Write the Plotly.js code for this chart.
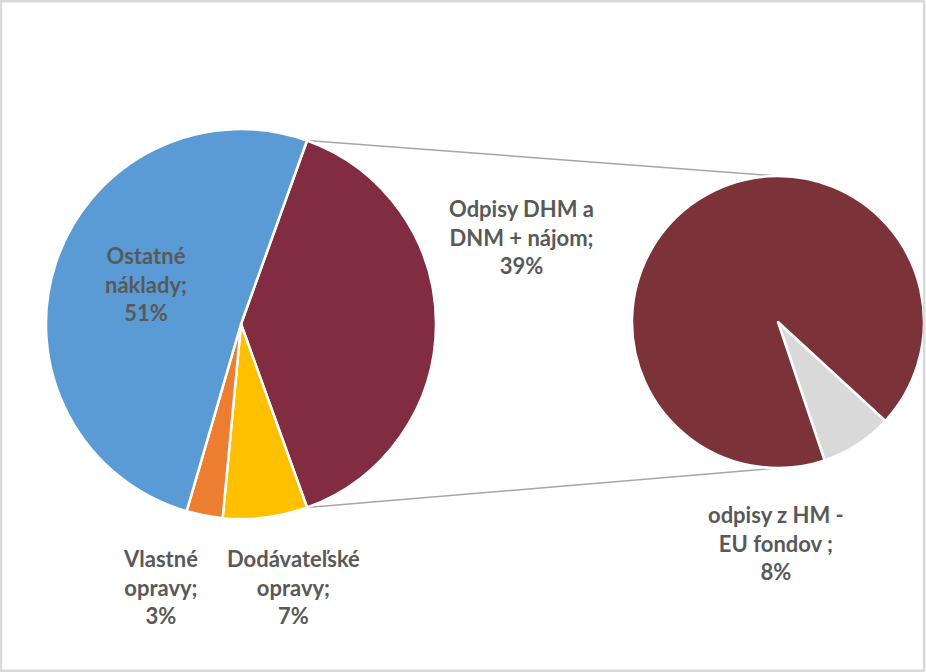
<!DOCTYPE html>
<html>
<head>
<meta charset="utf-8">
<script src="https://cdn.plot.ly/plotly-3.0.1.min.js"></script>
<style>
  html, body { margin: 0; padding: 0; background: #fff; }
  #plot { width: 926px; height: 672px; }
</style>
</head>
<body>
<div id="plot"></div>
<script>
// Hlavný koláč (poradie v smere hodinových ručičiek, od oddeleného dielu)
const mainLabels = ['Odpisy DHM a DNM + nájom', 'Dodávateľské opravy', 'Vlastné opravy', 'Ostatné náklady'];
const mainValues = [39, 7, 3, 51];
const mainColors = ['#822C42', '#FFC000', '#ED7D31', '#5B9BD5'];

// Druhý koláč (rozpad dielu Odpisy)
const subLabels = ['odpisy z HM - EU fondov', 'ostatné odpisy'];
const subValues = [8, 92];
const subColors = ['#D9D9D9', '#7C3239'];

const W = 926, H = 672;
const txtColor = '#595959';
const font = 'Lato, "Open Sans", sans-serif';

// geometria koláčov v pixeloch
const main = { cx: 241, cy: 324, r: 195 };
const sub = { cx: 778, cy: 322, r: 146 };

function domainOf(p) {
    return {
        x: [(p.cx - p.r) / W, (p.cx + p.r) / W],
        y: [1 - (p.cy + p.r) / H, 1 - (p.cy - p.r) / H]
    };
}

// oddelený diel je vycentrovaný na 3 hodiny
const mainTotal = mainValues.reduce((a, b) => a + b, 0);
const splitSpan = mainValues[0] / mainTotal * 360;
const mainRot = 90 - splitSpan / 2;

const subTotal = subValues.reduce((a, b) => a + b, 0);
const subRot = 147 - subValues[0] / subTotal * 360 / 2;

function pt(p, deg) {
    const a = deg * Math.PI / 180;
    return [(p.cx + p.r * Math.sin(a)) / W, 1 - (p.cy - p.r * Math.cos(a)) / H];
}

const pTop = pt(main, mainRot);
const pBot = pt(main, mainRot + splitSpan);
const sTop = pt(sub, 0);
const sBot = pt(sub, 180);

const traces = [
    {
        type: 'pie',
        labels: mainLabels,
        values: mainValues,
        sort: false,
        direction: 'clockwise',
        rotation: mainRot,
        textinfo: 'none',
        hoverinfo: 'label+percent',
        marker: { colors: mainColors, line: { color: '#FFFFFF', width: 2.5 } },
        domain: domainOf(main),
        showlegend: false
    },
    {
        type: 'pie',
        labels: subLabels,
        values: subValues,
        sort: false,
        direction: 'clockwise',
        rotation: subRot,
        textinfo: 'none',
        hoverinfo: 'label+percent',
        marker: { colors: subColors, line: { color: '#FFFFFF', width: 2.5 } },
        domain: domainOf(sub),
        showlegend: false
    }
];

function lab(text, x, y) {
    return {
        text: text, xref: 'paper', yref: 'paper',
        x: x / W, y: 1 - y / H, showarrow: false,
        align: 'center', xanchor: 'center', yanchor: 'middle',
        font: { family: font, size: 22, color: txtColor, weight: 'bold' }
    };
}

const layout = {
    width: W,
    height: H,
    margin: { l: 0, r: 0, t: 0, b: 0 },
    paper_bgcolor: '#FFFFFF',
    showlegend: false,
    shapes: [
        { type: 'line', xref: 'paper', yref: 'paper', x0: pTop[0], y0: pTop[1], x1: sTop[0], y1: sTop[1], line: { color: '#A6A6A6', width: 1.5 }, layer: 'below' },
        { type: 'line', xref: 'paper', yref: 'paper', x0: pBot[0], y0: pBot[1], x1: sBot[0], y1: sBot[1], line: { color: '#A6A6A6', width: 1.5 }, layer: 'below' },
        { type: 'rect', xref: 'paper', yref: 'paper', x0: 0.001, y0: 0.002, x1: 0.998, y1: 0.998, line: { color: '#D9D9D9', width: 2.5 } }
    ],
    annotations: [
        lab('Ostatné<br>náklady;<br>51%', 146, 284),
        lab('Odpisy DHM a<br>DNM + nájom;<br>39%', 521, 237),
        lab('Vlastné<br>opravy;<br>3%', 160, 587),
        lab('Dodávateľské<br>opravy;<br>7%', 293, 587),
        lab('odpisy z HM -<br>EU fondov ;<br>8%', 776, 543)
    ]
};

Plotly.newPlot('plot', traces, layout, { displayModeBar: false, staticPlot: true });
</script>
</body>
</html>
